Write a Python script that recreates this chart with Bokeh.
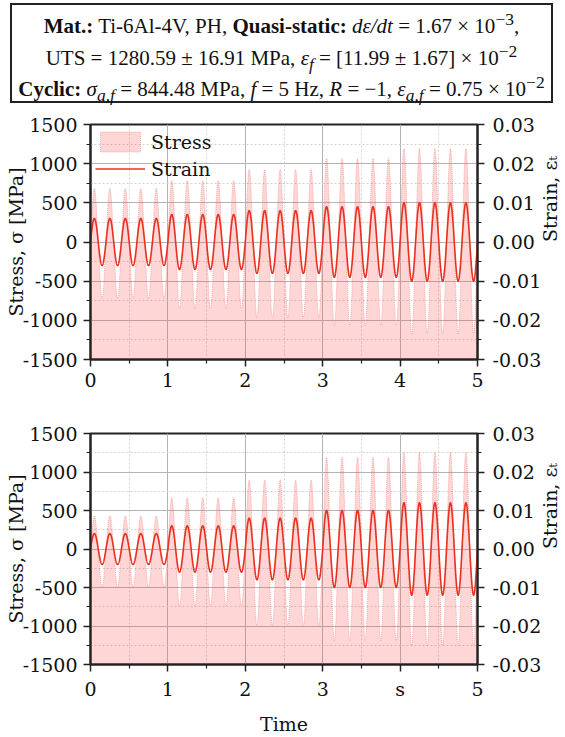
import numpy as np
from bokeh.plotting import figure
from bokeh.models import (Range1d, LinearAxis, Div, Legend, LegendItem,
                          FixedTicker, PrintfTickFormatter)
from bokeh.layouts import column
from bokeh.embed import file_html
from bokeh.resources import INLINE

# ---------------- data ----------------
segment_start = [0, 1, 2, 3, 4]          # s, each block lasts 1 s
frequency_hz = 5                          # cycles per second
strain_amp_top = [0.006, 0.007, 0.008, 0.009, 0.010]
stress_peak_top = [683, 785, 925, 1066, 1194]
stress_trough_top = [-721, -850, -964, -1066, -1168]
strain_amp_bot = [0.004, 0.006, 0.008, 0.010, 0.012]
stress_peak_bot = [430, 665, 895, 1190, 1255]
stress_trough_bot = [-495, -740, -997, -1190, -1254]

x_ticks = [0, 1, 2, 3, 4, 5]
x_minor = [0.5, 1.5, 2.5, 3.5, 4.5]
x_labels_top = ["0", "1", "2", "3", "4", "5"]
x_labels_bottom = ["0", "1", "2", "3", "s", "5"]
stress_ticks = [-1500, -1000, -500, 0, 500, 1000, 1500]
stress_minor = [-1250, -750, -250, 250, 750, 1250]
strain_ticks = [-0.03, -0.02, -0.01, 0.0, 0.01, 0.02, 0.03]
strain_minor = [-0.025, -0.015, -0.005, 0.005, 0.015, 0.025]

header_lines = [
    "<b>Mat.:</b> Ti-6Al-4V, PH, <b>Quasi-static:</b> <i>d&epsilon;/dt</i> = 1.67 &times; 10<sup>&minus;3</sup>,",
    "UTS = 1280.59 &plusmn; 16.91 MPa, <i>&epsilon;<sub>f</sub></i> = [11.99 &plusmn; 1.67] &times; 10<sup>&minus;2</sup>",
    "<b>Cyclic:</b> <i>&sigma;<sub>a,f</sub></i> = 844.48 MPa, <i>f</i> = 5 Hz, <i>R</i> = &minus;1, <i>&epsilon;<sub>a,f</sub></i> = 0.75 &times; 10<sup>&minus;2</sup>",
]

FONT = "DejaVu Serif"
FILL = "#ff4d4d"
LINE = "#e8311f"


def signals(amp, peak, trough):
    t = np.linspace(0, 5, 6001)
    seg = np.clip(np.searchsorted(segment_start, t, side="right") - 1, 0, 4)
    s = np.sin(2 * np.pi * frequency_hz * (t - np.array(segment_start)[seg]))
    strain = np.array(amp)[seg] * s
    shaped = np.sign(s) * np.abs(s) ** 1.15
    stress = np.where(s >= 0, np.array(peak)[seg] * shaped,
                      -np.array(trough)[seg] * shaped)
    return t, strain, stress


def make_fig(height, b_top, b_bottom, amp, peak, trough, labels, xlabel, legend):
    p = figure(width=575, height=height, x_range=Range1d(0, 5),
               y_range=Range1d(-1500, 1500), output_backend="svg",
               toolbar_location=None, min_border_left=90, min_border_right=98,
               min_border_top=b_top, min_border_bottom=b_bottom)
    p.extra_y_ranges = {"strain": Range1d(-0.03, 0.03)}
    p.outline_line_color = "#222222"
    p.outline_line_width = 2
    p.background_fill_color = "white"

    t, strain, stress = signals(amp, peak, trough)
    xs = np.concatenate([t, t[::-1]])
    ys = np.concatenate([stress, np.full_like(t, -1500.0)])
    r_stress = p.patch(xs, ys, fill_color=FILL, fill_alpha=0.23,
                       line_color="#f07070", line_alpha=0.5,
                       line_width=1, line_dash="1 1")
    r_strain = p.line(t, strain, y_range_name="strain", line_color=LINE,
                      line_width=1.6)

    # axes
    xa = p.xaxis[0]
    xa.ticker = FixedTicker(ticks=x_ticks, minor_ticks=x_minor)
    xa.major_label_overrides = {x: l for x, l in zip(x_ticks, labels)}
    ya = p.yaxis[0]
    ya.ticker = FixedTicker(ticks=stress_ticks, minor_ticks=stress_minor)
    ya.formatter = PrintfTickFormatter(format="%d")
    ya.axis_label = "Stress, σ [MPa]"
    ra = LinearAxis(y_range_name="strain",
                    ticker=FixedTicker(ticks=strain_ticks, minor_ticks=strain_minor),
                    formatter=PrintfTickFormatter(format="%.2f"),
                    axis_label="Strain, εₜ")
    p.add_layout(ra, "right")
    if xlabel:
        xa.axis_label = xlabel
    for ax in (xa, ya, ra):
        ax.axis_line_color = "#222222"
        ax.axis_line_width = 2
        ax.major_tick_line_color = "#222222"
        ax.minor_tick_line_color = "#222222"
        ax.major_tick_line_width = 1.5
        ax.minor_tick_line_width = 1.2
        ax.major_tick_in = 0
        ax.major_tick_out = 7
        ax.minor_tick_in = 0
        ax.minor_tick_out = 4
        ax.major_label_text_font = FONT
        ax.major_label_text_font_size = "19px"
        ax.major_label_text_color = "#111111"
        ax.axis_label_text_font = FONT
        ax.axis_label_text_font_size = "19px"
        ax.axis_label_text_font_style = "normal"
        ax.axis_label_text_color = "#111111"
        ax.major_label_standoff = 6
    ra.major_label_standoff = 8
    ya.axis_label_standoff = -7
    ra.axis_label_standoff = 6
    xa.axis_label_standoff = 10
    if "axis_label_orientation" in ra.properties():
        ra.axis_label_orientation = np.pi / 2

    # grids
    for g in (p.xgrid[0], p.ygrid[0]):
        g.grid_line_color = "#b4b4b4"
        g.grid_line_width = 1
        g.minor_grid_line_color = "#d2d2d2"
        g.minor_grid_line_dash = "2 2"
        g.minor_grid_line_width = 1

    if legend:
        lg = Legend(items=[LegendItem(label="Stress", renderers=[r_stress]),
                           LegendItem(label="Strain", renderers=[r_strain])],
                    location="top_left")
        lg.glyph_width = 50
        lg.glyph_height = 25
        lg.label_text_font = FONT
        lg.label_text_font_size = "19px"
        lg.label_text_color = "#111111"
        lg.border_line_alpha = 0
        lg.background_fill_alpha = 0
        lg.margin = 4
        lg.padding = 1
        lg.spacing = 2
        lg.label_standoff = 6
        p.add_layout(lg)
    return p


header_html = (
    '<div style="box-sizing:border-box;width:543px;height:100px;'
    'margin:3px 0 0 10px;border:2px solid #222;font-family:\'Liberation Serif\';'
    'font-size:21px;line-height:31.5px;text-align:center;color:#111;'
    'padding-top:6px;white-space:nowrap">'
    + "<br>".join(header_lines).replace("<sup>", '<sup style="line-height:0">')
    .replace("<sub>", '<sub style="line-height:0">') + "</div>")
div = Div(text=header_html, width=565, height=108, margin=0)

p1 = make_fig(292, 16, 41, strain_amp_top, stress_peak_top, stress_trough_top,
              x_labels_top, None, True)
p2 = make_fig(337, 33, 71, strain_amp_bot, stress_peak_bot, stress_trough_bot,
              x_labels_bottom, "Time", False)

layout = column(div, p1, p2, spacing=0)
open("out.html", "w").write(file_html(layout, INLINE))
